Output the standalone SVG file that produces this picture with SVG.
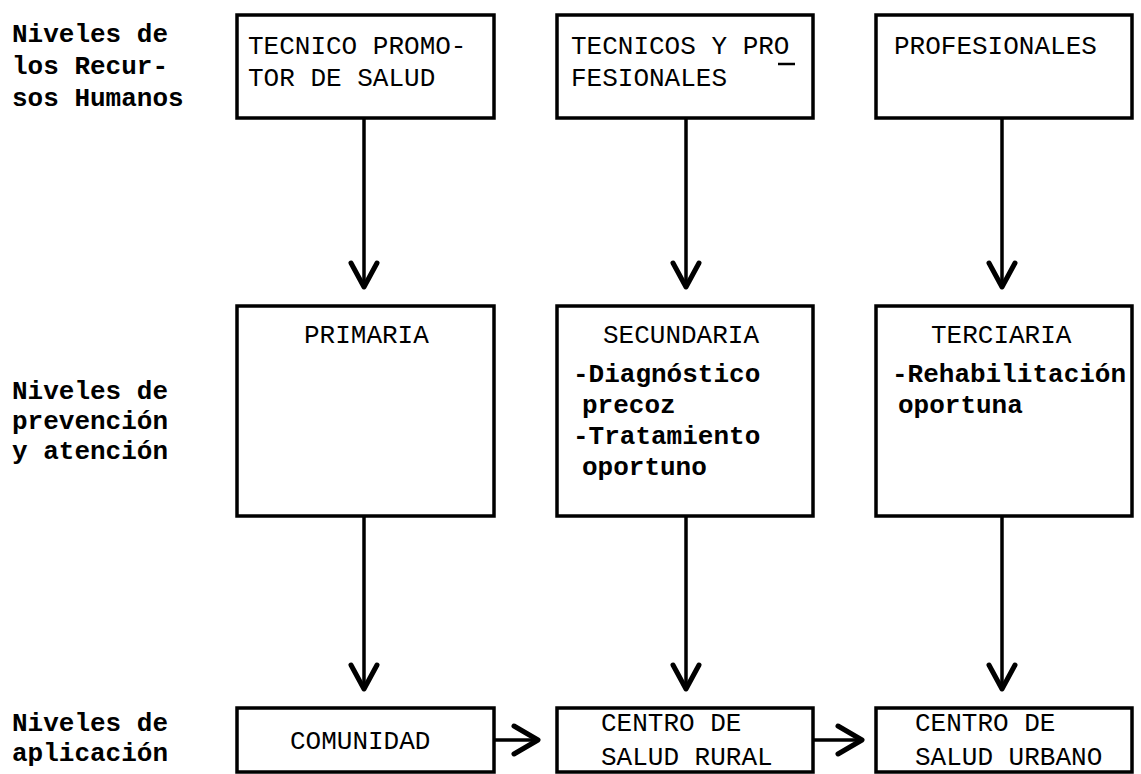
<svg xmlns="http://www.w3.org/2000/svg" width="1141" height="774" viewBox="0 0 1141 774">
<style>
.box{fill:none;stroke:#000;stroke-width:3.5}
.lbl{font-family:"Liberation Mono","DejaVu Sans Mono",monospace;font-weight:bold;font-size:26px;fill:#000}
.t{font-family:"Liberation Mono","DejaVu Sans Mono",monospace;font-size:26px;fill:#000}
.tb{font-family:"Liberation Mono","DejaVu Sans Mono",monospace;font-weight:bold;font-size:26px;fill:#000}
.stem{stroke:#000;stroke-width:3.5;fill:none}
.head{stroke:#000;stroke-width:5;fill:none;stroke-linecap:round;stroke-linejoin:round}
</style>
<rect width="1141" height="774" fill="#fff"/>
<g id="labels">
<text class="lbl" x="12" y="42">Niveles de</text>
<text class="lbl" x="12" y="74">los Recur-</text>
<text class="lbl" x="12" y="106">sos Humanos</text>
<text class="lbl" x="12" y="399">Niveles de</text>
<text class="lbl" x="12" y="429">prevención</text>
<text class="lbl" x="12" y="459">y atención</text>
<text class="lbl" x="12" y="731">Niveles de</text>
<text class="lbl" x="12" y="761">aplicación</text>
</g>
<g id="n-tecnico">
<rect class="box" x="237" y="15" width="257" height="103"/>
<text class="t" x="248" y="54">TECNICO PROMO-</text>
<text class="t" x="248" y="86">TOR DE SALUD</text>
</g>
<g id="n-tecnicos-prof">
<rect class="box" x="557" y="15" width="256" height="103"/>
<text class="t" x="571" y="54">TECNICOS Y PRO</text>
<line x1="778" y1="64" x2="795" y2="64" stroke="#000" stroke-width="2.5"/>
<text class="t" x="571" y="86">FESIONALES</text>
</g>
<g id="n-profesionales">
<rect class="box" x="876" y="15" width="256" height="103"/>
<text class="t" x="894" y="54">PROFESIONALES</text>
</g>
<g id="n-primaria">
<rect class="box" x="237" y="306" width="257" height="210"/>
<text class="t" x="304" y="343">PRIMARIA</text>
</g>
<g id="n-secundaria">
<rect class="box" x="557" y="306" width="256" height="210"/>
<text class="t" x="603" y="343">SECUNDARIA</text>
<text class="tb" x="573" y="382">-Diagnóstico</text>
<text class="tb" x="582" y="413">precoz</text>
<text class="tb" x="573" y="444">-Tratamiento</text>
<text class="tb" x="582" y="475">oportuno</text>
</g>
<g id="n-terciaria">
<rect class="box" x="876" y="306" width="256" height="210"/>
<text class="t" x="931" y="343">TERCIARIA</text>
<text class="tb" x="892" y="382">-Rehabilitación</text>
<text class="tb" x="898" y="413">oportuna</text>
</g>
<g id="n-comunidad">
<rect class="box" x="237" y="708" width="257" height="64"/>
<text class="t" x="290" y="749">COMUNIDAD</text>
</g>
<g id="n-rural">
<rect class="box" x="557" y="708" width="256" height="64"/>
<text class="t" x="601" y="731">CENTRO DE</text>
<text class="t" x="601" y="765">SALUD RURAL</text>
</g>
<g id="n-urbano">
<rect class="box" x="876" y="708" width="256" height="64"/>
<text class="t" x="915" y="731">CENTRO DE</text>
<text class="t" x="915" y="765">SALUD URBANO</text>
</g>
<g id="connectors">
<line class="stem" x1="364" y1="118" x2="364" y2="286"/>
<polyline class="head" points="351,263 364,287 377,263"/>
<line class="stem" x1="686" y1="118" x2="686" y2="286"/>
<polyline class="head" points="673,263 686,287 699,263"/>
<line class="stem" x1="1002" y1="118" x2="1002" y2="286"/>
<polyline class="head" points="989,263 1002,287 1015,263"/>
<line class="stem" x1="364" y1="516" x2="364" y2="688"/>
<polyline class="head" points="351,665 364,689 377,665"/>
<line class="stem" x1="686" y1="516" x2="686" y2="688"/>
<polyline class="head" points="673,665 686,689 699,665"/>
<line class="stem" x1="1002" y1="516" x2="1002" y2="688"/>
<polyline class="head" points="989,665 1002,689 1015,665"/>
<line class="stem" x1="494" y1="740" x2="536" y2="740"/>
<polyline class="head" points="514,726 538,740 514,754"/>
<line class="stem" x1="813" y1="740" x2="860" y2="740"/>
<polyline class="head" points="838,726 862,740 838,754"/>
</g>
</svg>
